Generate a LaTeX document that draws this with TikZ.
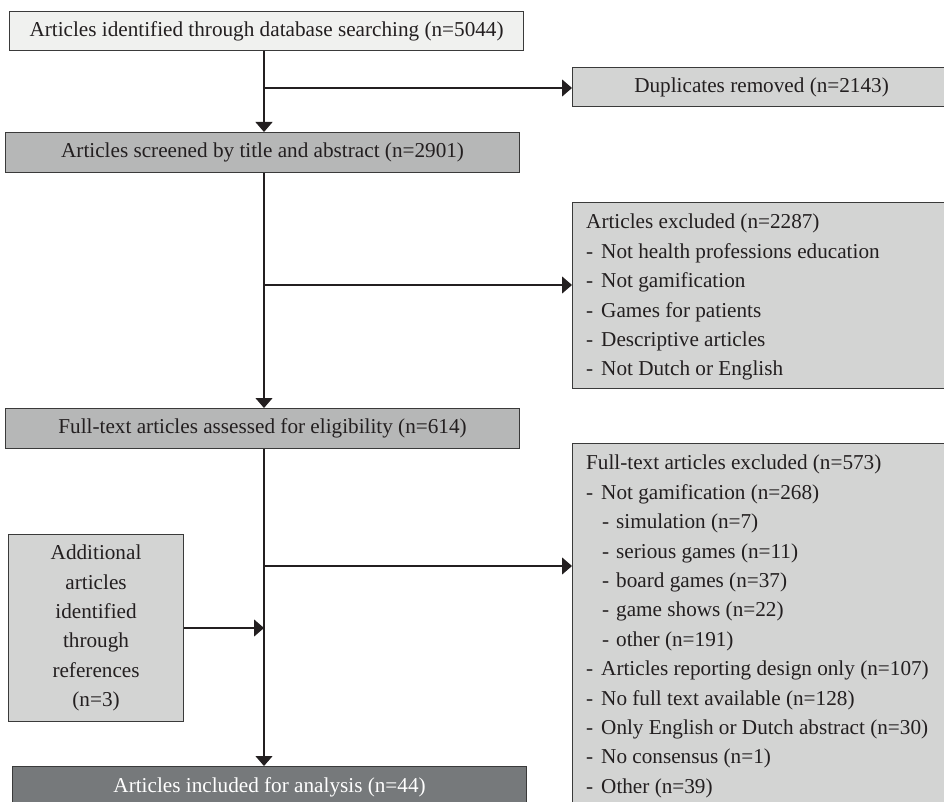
\documentclass[tikz,border=0pt]{standalone}
\usepackage{fontspec}
\setmainfont{Liberation Serif}
\usetikzlibrary{arrows.meta}
\definecolor{txt}{HTML}{231F20}
\definecolor{boxline}{HTML}{3A3A3A}
\definecolor{topfill}{HTML}{F0F1EF}
\definecolor{midfill}{HTML}{B6B7B7}
\definecolor{lightfill}{HTML}{D3D4D3}
\definecolor{darkfill}{HTML}{76797B}
\newcommand{\mitem}{\makebox[15pt][l]{-}}
\newcommand{\sitem}{\hspace*{16pt}\makebox[14pt][l]{-}}
\begin{document}
\begin{tikzpicture}[x=1pt,y=-1pt,
  box/.style={draw=boxline, line width=1.1pt, inner sep=0pt, anchor=north west,
    text=txt, font=\fontsize{21.2}{29.4}\selectfont, align=center},
  lbl/.style={text=txt, font=\fontsize{21.2}{29.4}\selectfont, inner sep=0pt,
    anchor=north west, align=left},
  flow/.style={draw=txt, line width=1.1pt, -{Triangle[width=17pt,length=10pt]}},
  conn/.style={draw=txt, line width=1.1pt}]
\useasboundingbox (0,0) rectangle (944,802);
\clip (0,0) rectangle (944,802);

\node[box, fill=topfill, minimum width=514pt, minimum height=39pt] (top) at (9,11)
  {Articles identified through database searching (n=5044)};
\node[box, fill=lightfill, minimum width=378pt, minimum height=39pt] (dup) at (572,67)
  {Duplicates removed (n=2143)};
\node[box, fill=midfill, minimum width=514pt, minimum height=40pt] (scr) at (5,132)
  {Articles screened by title and abstract (n=2901)};
\node[box, fill=lightfill, minimum width=378pt, minimum height=186pt] (exc) at (572,202) {};
\node[lbl] (exctxt) at (586,214)
  {Articles excluded (n=2287)\\
   \mitem Not health professions education\\
   \mitem Not gamification\\
   \mitem Games for patients\\
   \mitem Descriptive articles\\
   \mitem Not Dutch or English};
\node[box, fill=midfill, minimum width=514pt, minimum height=40pt] (full) at (5,408)
  {Full-text articles assessed for eligibility (n=614)};
\node[box, fill=lightfill, minimum width=378pt, minimum height=370pt] (exc2) at (572,443) {};
\node[lbl] (exc2txt) at (586,455)
  {Full-text articles excluded (n=573)\\
   \mitem Not gamification (n=268)\\
   \sitem simulation (n=7)\\
   \sitem serious games (n=11)\\
   \sitem board games (n=37)\\
   \sitem game shows (n=22)\\
   \sitem other (n=191)\\
   \mitem Articles reporting design only (n=107)\\
   \mitem No full text available (n=128)\\
   \mitem Only English or Dutch abstract (n=30)\\
   \mitem No consensus (n=1)\\
   \mitem Other (n=39)};
\node[box, fill=lightfill, minimum width=175pt, minimum height=187pt] (add) at (8,534)
  {Additional\\articles\\identified\\through\\references\\(n=3)};
\node[box, fill=darkfill, text=white, minimum width=514pt, minimum height=42pt] (inc) at (12,766)
  {Articles included for analysis (n=44)};

\coordinate (b1) at (264,88);
\coordinate (b2) at (264,285);
\coordinate (b3) at (264,566);
\coordinate (b4) at (264,628);

\draw[flow] (top.south -| b1) -- (scr.north -| b1);
\draw[flow] (b1) -- (b1 -| dup.west);
\draw[flow] (scr.south -| b2) -- (full.north -| b2);
\draw[flow] (b2) -- (b2 -| exc.west);
\draw[flow] (full.south -| b3) -- (inc.north -| b3);
\draw[flow] (b3) -- (b3 -| exc2.west);
\draw[flow] (add.east |- b4) -- (b4);
\end{tikzpicture}
\end{document}
